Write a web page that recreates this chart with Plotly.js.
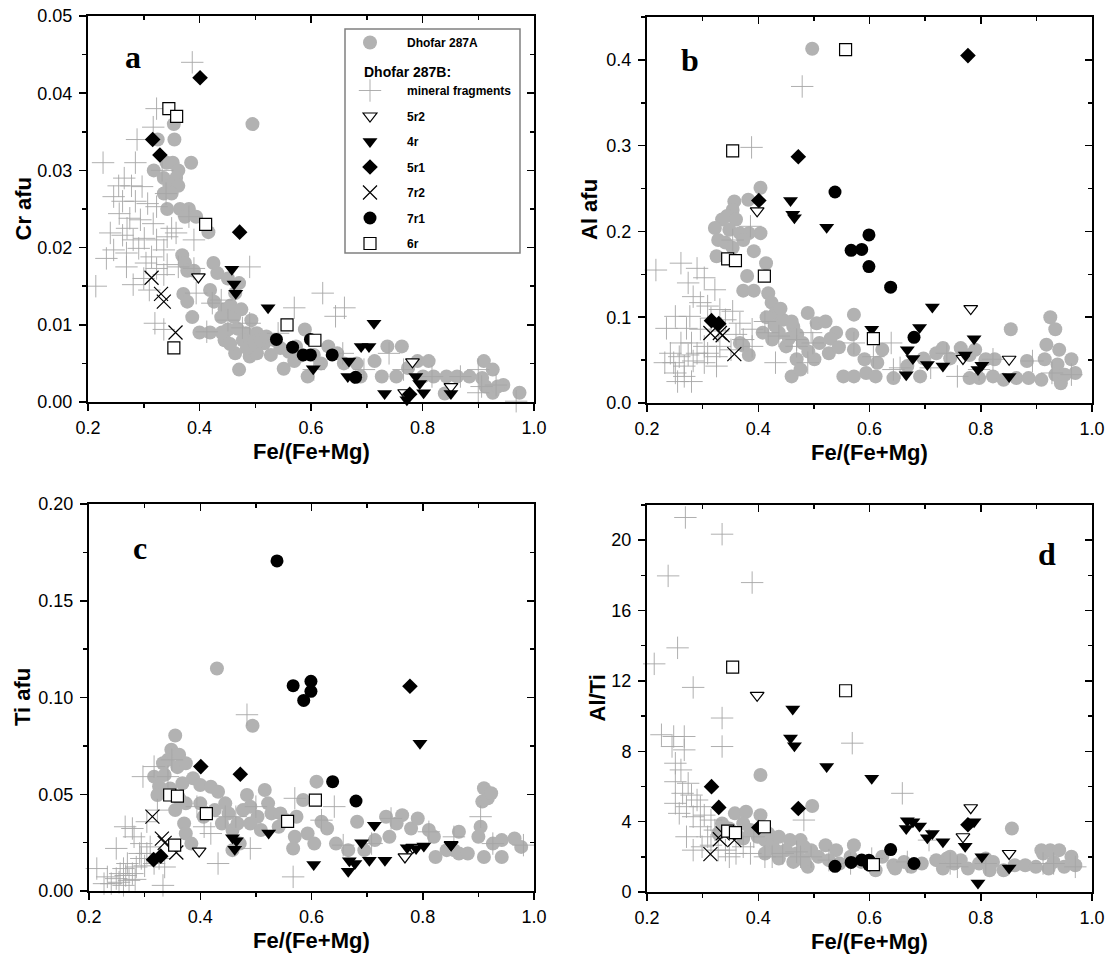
<!DOCTYPE html>
<html>
<head>
<meta charset="utf-8">
<script src="https://cdn.plot.ly/plotly-3.0.1.min.js"></script>
<style>html,body{margin:0;padding:0;background:#fff}</style>
</head>
<body>
<div id="chart" style="width:1111px;height:958px"></div>
<script>
// ---------- DATA (x = Fe/(Fe+Mg)) ----------
// Dhofar 287A (grey circles), [x, value]
const a_287A = [[0.495,0.036],[0.354,0.036],[0.355,0.034],[0.325,0.034],[0.341,0.031],[0.352,0.031],[0.362,0.030],[0.358,0.029],[0.385,0.031],[0.318,0.030],[0.336,0.029],[0.346,0.028],[0.336,0.027],[0.362,0.028],[0.350,0.027],[0.342,0.025],[0.365,0.025],[0.381,0.025],[0.374,0.024],[0.394,0.024],[0.416,0.022],[0.369,0.019],[0.374,0.018],[0.378,0.017],[0.390,0.017],[0.425,0.018],[0.432,0.0167],[0.451,0.016],[0.371,0.014],[0.378,0.013],[0.387,0.011],[0.400,0.009],[0.419,0.009],[0.419,0.0145],[0.426,0.013],[0.445,0.012],[0.439,0.011],[0.451,0.0094],[0.445,0.008],[0.464,0.0063],[0.471,0.0042],[0.490,0.0059],[0.483,0.0089],[0.493,0.0106],[0.503,0.0089],[0.516,0.0076],[0.528,0.0061],[0.503,0.0063],[0.464,0.0141],[0.471,0.0154],[0.456,0.0125],[0.462,0.0110],[0.475,0.0120],[0.468,0.0095],[0.478,0.0080],[0.455,0.0075],[0.440,0.0090],[0.485,0.0070],[0.498,0.0078],[0.510,0.0080],[0.520,0.0085],[0.535,0.0080],[0.545,0.0070],[0.551,0.0043],[0.570,0.0053],[0.573,0.0072],[0.589,0.0094],[0.594,0.0033],[0.618,0.0050],[0.605,0.0061],[0.647,0.0063],[0.631,0.0072],[0.580,0.0060],[0.560,0.0065],[0.659,0.0050],[0.689,0.0033],[0.682,0.0050],[0.714,0.0053],[0.737,0.0072],[0.763,0.0072],[0.727,0.0033],[0.753,0.0033],[0.774,0.0044],[0.791,0.0053],[0.811,0.0053],[0.801,0.0033],[0.820,0.0033],[0.843,0.0033],[0.862,0.0033],[0.884,0.0033],[0.840,0.0011],[0.910,0.0053],[0.926,0.0042],[0.907,0.0031],[0.913,0.0020],[0.926,0.0012],[0.945,0.0022],[0.974,0.0012],[0.935,0.0020]];
const b_287A = [[0.497,0.413],[0.404,0.251],[0.382,0.237],[0.357,0.235],[0.354,0.225],[0.344,0.218],[0.335,0.214],[0.322,0.204],[0.360,0.214],[0.348,0.202],[0.367,0.198],[0.404,0.198],[0.328,0.190],[0.341,0.187],[0.354,0.181],[0.325,0.171],[0.392,0.177],[0.383,0.198],[0.373,0.190],[0.380,0.148],[0.373,0.131],[0.392,0.131],[0.414,0.163],[0.418,0.128],[0.424,0.117],[0.431,0.105],[0.444,0.097],[0.463,0.089],[0.489,0.105],[0.505,0.093],[0.521,0.095],[0.540,0.082],[0.572,0.103],[0.569,0.080],[0.572,0.062],[0.437,0.082],[0.450,0.066],[0.469,0.051],[0.460,0.031],[0.476,0.039],[0.501,0.051],[0.527,0.058],[0.425,0.074],[0.408,0.082],[0.367,0.070],[0.383,0.056],[0.373,0.067],[0.455,0.075],[0.470,0.080],[0.480,0.070],[0.490,0.060],[0.510,0.070],[0.530,0.075],[0.545,0.065],[0.460,0.095],[0.440,0.110],[0.415,0.100],[0.430,0.090],[0.553,0.031],[0.572,0.031],[0.591,0.051],[0.594,0.035],[0.611,0.031],[0.623,0.062],[0.614,0.047],[0.643,0.029],[0.668,0.043],[0.691,0.031],[0.697,0.052],[0.720,0.058],[0.732,0.064],[0.745,0.052],[0.764,0.064],[0.780,0.056],[0.790,0.062],[0.780,0.029],[0.797,0.029],[0.809,0.051],[0.825,0.051],[0.822,0.031],[0.841,0.027],[0.854,0.086],[0.864,0.029],[0.883,0.049],[0.886,0.029],[0.909,0.027],[0.925,0.100],[0.934,0.086],[0.918,0.068],[0.915,0.051],[0.941,0.062],[0.938,0.045],[0.934,0.033],[0.944,0.023],[0.963,0.051],[0.970,0.035],[0.951,0.033]];
const c_287A = [[0.430,0.115],[0.494,0.0854],[0.355,0.0804],[0.348,0.073],[0.342,0.0678],[0.362,0.0704],[0.333,0.066],[0.359,0.064],[0.374,0.066],[0.317,0.0591],[0.336,0.060],[0.326,0.054],[0.346,0.053],[0.368,0.0557],[0.387,0.0583],[0.400,0.0548],[0.419,0.0539],[0.432,0.0513],[0.323,0.0496],[0.362,0.0479],[0.374,0.0453],[0.355,0.0418],[0.371,0.0349],[0.374,0.0297],[0.384,0.0245],[0.400,0.0453],[0.406,0.0384],[0.426,0.0418],[0.445,0.0453],[0.451,0.0401],[0.439,0.0349],[0.458,0.0315],[0.467,0.0349],[0.458,0.0211],[0.471,0.0245],[0.484,0.0496],[0.490,0.0436],[0.503,0.0384],[0.516,0.0522],[0.522,0.0453],[0.528,0.0401],[0.490,0.0349],[0.509,0.0315],[0.477,0.0418],[0.544,0.0401],[0.554,0.0366],[0.541,0.0332],[0.570,0.028],[0.567,0.022],[0.573,0.0384],[0.585,0.047],[0.593,0.0297],[0.609,0.0565],[0.605,0.0245],[0.618,0.0358],[0.628,0.0323],[0.644,0.0245],[0.666,0.0211],[0.682,0.0358],[0.695,0.0211],[0.714,0.0263],[0.734,0.0384],[0.740,0.028],[0.753,0.0349],[0.763,0.0392],[0.779,0.0323],[0.791,0.0375],[0.811,0.0315],[0.820,0.028],[0.823,0.0176],[0.843,0.0211],[0.856,0.0211],[0.865,0.0194],[0.881,0.0194],[0.865,0.0306],[0.900,0.028],[0.910,0.0176],[0.904,0.0332],[0.907,0.0462],[0.917,0.0479],[0.910,0.0531],[0.923,0.0505],[0.926,0.0245],[0.942,0.0263],[0.942,0.0176],[0.965,0.0271],[0.977,0.0228]];
const d_287A = [[0.404,6.65],[0.497,4.89],[0.856,3.61],[0.358,4.47],[0.378,4.56],[0.404,4.37],[0.335,3.90],[0.348,3.61],[0.373,3.90],[0.386,3.52],[0.328,3.33],[0.360,3.33],[0.373,3.04],[0.399,3.14],[0.418,3.33],[0.412,2.95],[0.425,2.76],[0.437,3.14],[0.457,2.95],[0.476,2.95],[0.482,2.57],[0.450,2.38],[0.469,2.19],[0.495,2.38],[0.521,2.66],[0.540,2.38],[0.572,2.66],[0.508,2.00],[0.489,1.43],[0.527,1.81],[0.546,1.62],[0.566,2.00],[0.585,1.71],[0.604,1.62],[0.611,1.24],[0.623,2.00],[0.643,1.52],[0.662,1.71],[0.646,1.33],[0.694,1.62],[0.720,1.81],[0.739,1.90],[0.752,1.62],[0.764,1.81],[0.777,1.33],[0.797,1.62],[0.809,1.90],[0.822,1.71],[0.841,1.24],[0.861,1.52],[0.880,1.52],[0.899,1.43],[0.912,2.19],[0.909,2.38],[0.925,2.38],[0.941,2.38],[0.931,1.71],[0.950,1.43],[0.963,2.00],[0.970,1.52],[0.922,1.33],[0.431,2.38],[0.412,2.19],[0.437,1.90],[0.463,1.71],[0.482,1.81],[0.675,1.43],[0.732,1.33],[0.745,2.00],[0.816,1.24]];

// Dhofar 287B mineral fragments (grey crosses), [x, value]
const a_mf = [[0.387,0.044],[0.323,0.038],[0.317,0.0356],[0.288,0.034],[0.227,0.031],[0.285,0.031],[0.333,0.030],[0.265,0.029],[0.278,0.028],[0.297,0.0279],[0.246,0.0266],[0.262,0.026],[0.285,0.026],[0.307,0.0257],[0.323,0.0253],[0.256,0.0244],[0.275,0.0238],[0.294,0.0236],[0.317,0.0231],[0.240,0.0219],[0.262,0.0216],[0.281,0.021],[0.301,0.0212],[0.323,0.021],[0.342,0.0214],[0.358,0.0219],[0.381,0.024],[0.390,0.021],[0.246,0.0197],[0.269,0.0193],[0.291,0.0199],[0.314,0.0188],[0.336,0.0197],[0.233,0.0186],[0.269,0.0175],[0.304,0.018],[0.323,0.0173],[0.342,0.0178],[0.362,0.0175],[0.214,0.015],[0.281,0.0152],[0.310,0.0145],[0.336,0.0165],[0.390,0.0173],[0.394,0.0141],[0.439,0.0132],[0.490,0.0175],[0.423,0.0128],[0.320,0.0102],[0.336,0.0094],[0.413,0.0091],[0.451,0.0106],[0.477,0.0096],[0.490,0.0102],[0.570,0.0122],[0.621,0.0141],[0.644,0.0111],[0.660,0.0122],[0.541,0.0089],[0.657,0.0063],[0.605,0.0042],[0.695,0.0042],[0.740,0.0063],[0.766,0.0042],[0.817,0.0033],[0.868,0.0033],[0.900,0.0042],[0.900,0.0012],[0.932,0.0022],[0.968,0.0001],[0.906,0.002],[0.350,0.0225],[0.270,0.0225],[0.255,0.028],[0.300,0.016],[0.340,0.027]];
const b_mf = [[0.479,0.369],[0.388,0.298],[0.386,0.206],[0.354,0.190],[0.216,0.155],[0.261,0.163],[0.290,0.157],[0.274,0.140],[0.303,0.146],[0.322,0.132],[0.283,0.124],[0.296,0.117],[0.309,0.113],[0.331,0.109],[0.354,0.107],[0.251,0.101],[0.277,0.101],[0.315,0.099],[0.341,0.097],[0.367,0.093],[0.235,0.087],[0.271,0.087],[0.296,0.086],[0.328,0.084],[0.389,0.086],[0.412,0.095],[0.418,0.082],[0.360,0.080],[0.261,0.070],[0.280,0.070],[0.303,0.066],[0.331,0.066],[0.351,0.062],[0.373,0.074],[0.389,0.066],[0.242,0.058],[0.258,0.054],[0.274,0.056],[0.290,0.058],[0.309,0.058],[0.325,0.054],[0.232,0.047],[0.248,0.047],[0.267,0.043],[0.283,0.049],[0.303,0.047],[0.325,0.043],[0.251,0.035],[0.267,0.031],[0.280,0.025],[0.255,0.025],[0.431,0.047],[0.437,0.078],[0.469,0.074],[0.495,0.082],[0.498,0.070],[0.489,0.047],[0.469,0.066],[0.572,0.070],[0.639,0.070],[0.607,0.054],[0.643,0.039],[0.655,0.041],[0.710,0.041],[0.739,0.058],[0.758,0.031],[0.797,0.039],[0.822,0.051],[0.893,0.049],[0.928,0.035],[0.963,0.033]];
const c_mf = [[0.484,0.0911],[0.214,0.0116],[0.249,0.022],[0.265,0.0332],[0.278,0.0323],[0.304,0.0358],[0.323,0.0418],[0.297,0.0591],[0.317,0.0643],[0.349,0.0678],[0.342,0.0591],[0.233,0.0073],[0.240,0.0038],[0.249,0.0064],[0.256,0.009],[0.262,0.0116],[0.269,0.0142],[0.272,0.0055],[0.278,0.009],[0.285,0.0124],[0.294,0.0168],[0.294,0.0245],[0.304,0.0194],[0.310,0.0228],[0.317,0.0142],[0.326,0.0168],[0.336,0.0124],[0.333,0.0029],[0.281,0.028],[0.262,0.0029],[0.227,0.0038],[0.291,0.0194],[0.254,0.0045],[0.266,0.0080],[0.283,0.0060],[0.300,0.0130],[0.394,0.0436],[0.407,0.0332],[0.432,0.0142],[0.419,0.0297],[0.445,0.0384],[0.464,0.0384],[0.500,0.0436],[0.490,0.022],[0.567,0.0073],[0.570,0.0479],[0.618,0.0366],[0.641,0.0436],[0.657,0.0237],[0.708,0.0245],[0.743,0.0375],[0.811,0.0306],[0.904,0.0384],[0.926,0.0245],[0.981,0.0237],[0.856,0.028]];
const d_mf = [[0.269,21.29],[0.335,20.34],[0.238,17.97],[0.389,17.59],[0.255,13.88],[0.213,12.97],[0.283,11.63],[0.335,9.89],[0.335,8.27],[0.569,8.46],[0.659,5.61],[0.482,4.09],[0.226,8.94],[0.248,8.84],[0.267,8.84],[0.245,8.27],[0.267,8.08],[0.251,7.32],[0.261,6.94],[0.251,6.27],[0.274,6.18],[0.264,5.61],[0.280,5.51],[0.290,5.23],[0.251,5.04],[0.271,4.85],[0.296,4.85],[0.258,4.47],[0.283,4.28],[0.303,4.37],[0.315,4.09],[0.296,3.71],[0.309,3.14],[0.322,3.52],[0.283,2.38],[0.299,2.57],[0.315,2.66],[0.328,2.38],[0.348,2.00],[0.341,2.38],[0.360,2.19],[0.386,2.19],[0.373,2.57],[0.412,2.00],[0.425,2.00],[0.444,2.19],[0.469,2.28],[0.476,2.00],[0.495,2.00],[0.527,1.81],[0.566,1.62],[0.604,1.90],[0.668,1.71],[0.745,1.62],[0.758,1.43],[0.809,1.62],[0.912,1.62],[0.931,1.62],[0.970,1.43],[0.707,2.95],[0.392,3.14],[0.271,3.14]];

// Dhofar 287B rim analyses: shared x, per-panel values
const x_5r2 = [0.398, 0.768, 0.782, 0.851];
const cr_5r2 = [0.0162, 0.0012, 0.0052, 0.0020];
const al_5r2 = [0.224, 0.052, 0.110, 0.051];
const ti_5r2 = [0.0206, 0.0176, 0.0225, 0.0240];
const alti_5r2 = [11.18, 3.14, 4.79, 2.19];

const x_4r = [0.458, 0.462, 0.465, 0.523, 0.604, 0.666, 0.668, 0.678, 0.690, 0.704, 0.713, 0.732, 0.772, 0.788, 0.795, 0.802, 0.851];
const cr_4r = [0.0172, 0.0153, 0.0141, 0.0122, 0.0043, 0.0033, 0.0053, 0.0032, 0.0072, 0.0072, 0.0102, 0.0011, 0.0003, 0.0033, 0.0024, 0.0012, 0.0011];
const al_4r = [0.236, 0.220, 0.216, 0.205, 0.086, 0.033, 0.062, 0.052, 0.088, 0.045, 0.112, 0.043, 0.056, 0.075, 0.039, 0.044, 0.031];
const ti_4r = [0.0275, 0.0216, 0.026, 0.030, 0.0137, 0.0102, 0.0156, 0.0142, 0.025, 0.0159, 0.034, 0.0159, 0.0223, 0.022, 0.0764, 0.0233, 0.0237];
const alti_4r = [8.75, 10.4, 8.31, 7.13, 6.46, 3.61, 4.05, 3.99, 3.75, 3.08, 3.33, 2.85, 2.60, 3.99, 0.51, 2.0, 1.37];

const x_5r1 = [0.316, 0.329, 0.401, 0.472, 0.777];
const cr_5r1 = [0.034, 0.032, 0.042, 0.022, 0.001];
const al_5r1 = [0.096, 0.0925, 0.236, 0.287, 0.405];
const ti_5r1 = [0.0162, 0.018, 0.0643, 0.0603, 0.1058];
const alti_5r1 = [5.99, 4.81, 3.67, 4.75, 3.82];

const x_7r2 = [0.314, 0.331, 0.336, 0.357];
const cr_7r2 = [0.0161, 0.0140, 0.0130, 0.0090];
const al_7r2 = [0.0816, 0.0816, 0.079, 0.057];
const ti_7r2 = [0.0384, 0.0271, 0.0249, 0.0199];
const alti_7r2 = [2.15, 3.0, 3.33, 2.95];

const x_7r1 = [0.538, 0.567, 0.586, 0.599, 0.599, 0.638, 0.680];
const cr_7r1 = [0.0081, 0.0071, 0.0061, 0.0081, 0.0061, 0.0061, 0.0032];
const al_7r1 = [0.246, 0.178, 0.179, 0.196, 0.159, 0.135, 0.0766];
const ti_7r1 = [0.1706, 0.1061, 0.0985, 0.1084, 0.1032, 0.0565, 0.0465];
const alti_7r1 = [1.46, 1.68, 1.82, 1.81, 1.54, 2.41, 1.62];

const x_6r = [0.345, 0.354, 0.359, 0.411, 0.557, 0.607];
const cr_6r = [0.038, 0.007, 0.037, 0.023, 0.010, 0.008];
const al_6r = [0.168, 0.294, 0.166, 0.148, 0.412, 0.075];
const ti_6r = [0.0496, 0.0237, 0.049, 0.040, 0.036, 0.047];
const alti_6r = [3.46, 12.78, 3.38, 3.71, 11.44, 1.56];

const seriesNames = ['Dhofar 287A', 'mineral fragments', '5r2', '4r', '5r1', '7r2', '7r1', '6r'];
const xTicks = ['0.2', '0.4', '0.6', '0.8', '1.0'];
const xTitle = 'Fe/(Fe+Mg)';
const yTitles = ['Cr afu', 'Al afu', 'Ti afu', 'Al/Ti'];

// ---------- STYLE / LAYOUT ----------
const FONT = 'Liberation Sans, Arial, Helvetica, sans-serif';
const W = 1111, H = 958;
const PX = px => px / W;
const PY = py => 1 - py / H;

const styles = {
  'Dhofar 287A': {symbol: 'circle', size: 14, color: '#b2b2b2', line: {width: 0}},
  'mineral fragments': {symbol: 'cross-thin-open', size: 16, color: '#a6a6a6', line: {width: 0.9, color: '#a6a6a6'}},
  '5r2': {symbol: 'triangle-down', size: 12, color: '#ffffff', line: {width: 1.2, color: '#000'}},
  '4r': {symbol: 'triangle-down', size: 13, color: '#000', line: {width: 0}},
  '5r1': {symbol: 'diamond', size: 12, color: '#000', line: {width: 0}},
  '7r2': {symbol: 'x-thin-open', size: 14, color: '#000', line: {width: 1.2, color: '#000'}},
  '7r1': {symbol: 'circle', size: 13, color: '#000', line: {width: 0}},
  '6r': {symbol: 'square', size: 12, color: '#ffffff', line: {width: 1.2, color: '#000'}}
};

const panels = [
  {ax: '', ov: '5', px: [88, 534], py: [16, 402], range: [0, 0.05], dtick: 0.01, minor: 0.005, fmt: '.2f', ytx: 22.5, xty: 451,
   grey: a_287A, mf: a_mf, v: [cr_5r2, cr_4r, cr_5r1, cr_7r2, cr_7r1, cr_6r], letter: 'a', lx: 133, ly: 57, legend: true},
  {ax: '2', ov: '6', px: [647, 1092], py: [17, 403], range: [0, 0.45], dtick: 0.1, minor: 0.05, fmt: '.1f', ytx: 589, xty: 452,
   grey: b_287A, mf: b_mf, v: [al_5r2, al_4r, al_5r1, al_7r2, al_7r1, al_6r], letter: 'b', lx: 690, ly: 60},
  {ax: '3', ov: '7', px: [89, 534], py: [504, 891], range: [0, 0.2], dtick: 0.05, minor: 0.025, fmt: '.2f', ytx: 22.5, xty: 940,
   grey: c_287A, mf: c_mf, v: [ti_5r2, ti_4r, ti_5r1, ti_7r2, ti_7r1, ti_6r], letter: 'c', lx: 140, ly: 548},
  {ax: '4', ov: '8', px: [647, 1092], py: [505, 892], range: [0, 22], dtick: 4, minor: 2, fmt: 'd', ytx: 597, xty: 941,
   grey: d_287A, mf: d_mf, v: [alti_5r2, alti_4r, alti_5r1, alti_7r2, alti_7r1, alti_6r], letter: 'd', lx: 1047, ly: 554}
];
const rimX = [x_5r2, x_4r, x_5r1, x_7r2, x_7r1, x_6r];

const traces = [];
const layout = {
  width: W, height: H, margin: {l: 0, r: 0, t: 0, b: 0},
  paper_bgcolor: '#fff', plot_bgcolor: 'rgba(0,0,0,0)',
  font: {family: FONT, color: '#000'},
  showlegend: true,
  annotations: [], shapes: []
};

function mk(name, xs, ys, xa, ya, isLegend) {
  const s = styles[name];
  return {
    type: 'scatter', mode: 'markers', name: name, x: xs, y: ys,
    xaxis: 'x' + xa, yaxis: 'y' + ya, cliponaxis: false,
    legend: name === 'Dhofar 287A' ? 'legend' : 'legend2',
    legendgroup: name, showlegend: !!isLegend,
    marker: {symbol: s.symbol, size: s.size, color: s.color, line: s.line},
    hoverinfo: 'x+y'
  };
}

const titleFont = {family: FONT, size: 22, weight: 'bold', color: '#000'};

panels.forEach((p, k) => {
  const xa = p.ax, ya = p.ax;
  // placeholder traces (no drawable points) so the mirrored frame axes (top/right) get drawn
  traces.push({type: 'scatter', mode: 'markers', x: [null], y: [null], xaxis: 'x' + p.ov, yaxis: 'y' + ya, showlegend: false, hoverinfo: 'skip'});
  traces.push({type: 'scatter', mode: 'markers', x: [null], y: [null], xaxis: 'x' + xa, yaxis: 'y' + p.ov, showlegend: false, hoverinfo: 'skip'});
  traces.push(mk('Dhofar 287A', p.grey.map(d => d[0]), p.grey.map(d => d[1]), xa, ya, p.legend));
  traces.push(mk('mineral fragments', p.mf.map(d => d[0]), p.mf.map(d => d[1]), xa, ya, p.legend));
  for (let i = 0; i < 6; i++) {
    traces.push(mk(seriesNames[i + 2], rimX[i], p.v[i], xa, ya, p.legend));
  }
  const xdom = [PX(p.px[0]), PX(p.px[1])];
  const ydom = [PY(p.py[1]), PY(p.py[0])];
  const common = {showgrid: false, zeroline: false, showline: true, linecolor: '#000', linewidth: 2,
                  tickcolor: '#000', tickwidth: 1.5, ticklen: 7, fixedrange: true, automargin: false};
  layout['xaxis' + xa] = Object.assign({}, common, {
    domain: xdom, anchor: 'y' + ya, range: [0.2, 1.0], tickmode: 'array',
    tickvals: xTicks.map(Number), ticktext: xTicks, ticks: 'outside', ticklabelstandoff: 1,
    tickfont: {family: FONT, size: 18, color: '#000'},
    minor: {ticks: 'outside', ticklen: 4, tickwidth: 1.5, tickcolor: '#000', dtick: 0.1, tick0: 0.2, showgrid: false}
  });
  layout['yaxis' + ya] = Object.assign({}, common, {
    domain: ydom, anchor: 'x' + xa, range: p.range, dtick: p.dtick, tick0: 0, tickformat: p.fmt,
    ticks: 'outside', ticklabelstandoff: 3,
    tickfont: {family: FONT, size: 18, color: '#000'},
    minor: {ticks: 'outside', ticklen: 4, tickwidth: 1.5, tickcolor: '#000', dtick: p.minor, tick0: 0, showgrid: false}
  });
  layout['xaxis' + p.ov] = Object.assign({}, common, {
    overlaying: 'x' + xa, anchor: 'y' + ya, side: 'top', range: [0.2, 1.0], dtick: 0.2, tick0: 0.2,
    ticks: 'inside', showticklabels: false,
    minor: {ticks: 'inside', ticklen: 4, tickwidth: 1.5, tickcolor: '#000', dtick: 0.1, tick0: 0.2, showgrid: false}
  });
  layout['yaxis' + p.ov] = Object.assign({}, common, {
    overlaying: 'y' + ya, anchor: 'x' + xa, side: 'right', range: p.range, dtick: p.dtick, tick0: 0,
    ticks: 'inside', showticklabels: false,
    minor: {ticks: 'inside', ticklen: 4, tickwidth: 1.5, tickcolor: '#000', dtick: p.minor, tick0: 0, showgrid: false}
  });
  // axis titles
  layout.annotations.push({
    text: xTitle, xref: 'paper', yref: 'paper', x: PX((p.px[0] + p.px[1]) / 2), y: PY(p.xty),
    xanchor: 'center', yanchor: 'middle', showarrow: false, borderpad: 0, font: titleFont
  });
  layout.annotations.push({
    text: yTitles[k], xref: 'paper', yref: 'paper', x: PX(p.ytx), y: PY((p.py[0] + p.py[1]) / 2),
    xanchor: 'center', yanchor: 'middle', showarrow: false, borderpad: 0, textangle: -90, font: titleFont
  });
  // panel letter
  layout.annotations.push({
    text: p.letter, xref: 'paper', yref: 'paper', x: PX(p.lx), y: PY(p.ly),
    xanchor: 'center', yanchor: 'middle', showarrow: false,
    font: {family: 'Liberation Serif, Times New Roman, serif', size: 32, weight: 'bold', color: '#000'}
  });
});

// legend heading and frame
layout.annotations.push({
  text: 'Dhofar 287B:', xref: 'paper', yref: 'paper', x: PX(362), y: PY(72),
  xanchor: 'left', yanchor: 'middle', showarrow: false,
  font: {family: FONT, size: 14, weight: 'bold', color: '#000'}
});
layout.shapes.push({
  type: 'rect', xref: 'paper', yref: 'paper', x0: PX(345), x1: PX(520), y0: PY(253), y1: PY(29),
  line: {color: '#808080', width: 1.5}, fillcolor: 'rgba(255,255,255,0)', layer: 'above'
});
const legFont = {family: FONT, size: 12, weight: 'bold', color: '#000'};
layout.legend = {x: PX(333), y: PY(28), xanchor: 'left', yanchor: 'top', bgcolor: 'rgba(0,0,0,0)',
  borderwidth: 0, font: legFont, itemwidth: 64, itemsizing: 'trace', tracegroupgap: 0};
layout.legend2 = {x: PX(333), y: PY(76), xanchor: 'left', yanchor: 'top', bgcolor: 'rgba(0,0,0,0)',
  borderwidth: 0, font: legFont, itemwidth: 64, itemsizing: 'trace', tracegroupgap: 6.5, traceorder: 'grouped'};

Plotly.newPlot('chart', traces, layout, {staticPlot: true, displayModeBar: false});
</script>
</body>
</html>
